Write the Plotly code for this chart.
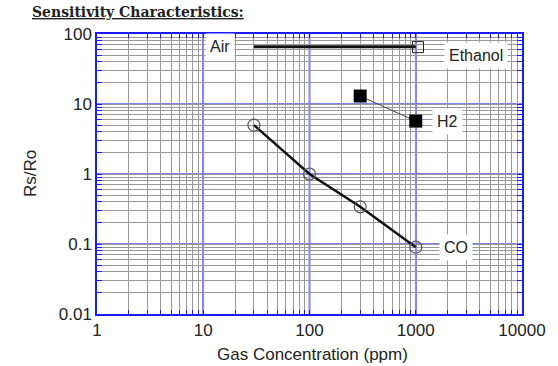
import math
import plotly.graph_objects as go

# Sensitivity curves (Rs/Ro vs gas concentration in ppm)
co_ppm = [30, 100, 300, 1000]
co_ratio = [5.0, 1.0, 0.34, 0.09]

h2_ppm = [300, 1000]
h2_ratio = [13.0, 5.7]

air_ppm = [30, 1000]
air_ratio = [66, 66]

ethanol_ppm = [1050]
ethanol_ratio = [65]

x_major = [1, 10, 100, 1000, 10000]
x_major_text = ["1", "10", "100", "1000", "10000"]
y_major = [0.01, 0.1, 1, 10, 100]
y_major_text = ["0.01", "0.1", "1", "10", "100"]

# curve labels: text, ppm, Rs/Ro
labels = [("Air", 14.5, 67), ("Ethanol", 3700, 50), ("H2", 2000, 5.7), ("CO", 2400, 0.09)]

BLUE = "#1a1aff"
LIGHT_BLUE = "#5555f8"
GRAY = "#999999"
INK = "#222222"
FONT = "Liberation Sans"

# plot area in pixels
W, H = 558, 366
L, R, T, B = 97, 36, 34, 52
PW, PH = W - L - R, H - T - B


def log_grid(decades):
    """All 1..9 x 10^k positions, labelled only at the decades."""
    vals, text = [], []
    for d in decades:
        for m in range(1, 10):
            vals.append(m * d)
            text.append("")
    return vals, text


x_vals, x_text = log_grid([1, 10, 100, 1000])
y_vals, y_text = log_grid([0.01, 0.1, 1, 10])
x_vals.append(10000)
x_text.append("")
y_vals.append(100)
y_text.append("")
for v, t in zip(x_major, x_major_text):
    x_text[x_vals.index(v)] = t
for v, t in zip(y_major, y_major_text):
    y_text[y_vals.index(v)] = t

fig = go.Figure()

# decade lines in blue, above the gray grid and beneath the curves
for v in x_major[1:-1]:
    fig.add_shape(type="line", layer="between", xref="x", yref="paper",
                  x0=v, x1=v, y0=0, y1=1,
                  line=dict(color=BLUE, width=1.6))
for v in y_major[1:-1]:
    fig.add_shape(type="line", layer="between", xref="paper", yref="y",
                  x0=0, x1=1, y0=v, y1=v,
                  line=dict(color=LIGHT_BLUE, width=1.6))

fig.add_trace(go.Scatter(
    x=air_ppm, y=air_ratio, mode="lines",
    line=dict(color="#111111", width=3), showlegend=False))
fig.add_trace(go.Scatter(
    x=ethanol_ppm, y=ethanol_ratio, mode="markers",
    marker=dict(symbol="square-open", size=11, color="#222222",
                line=dict(width=1)), showlegend=False))
fig.add_trace(go.Scatter(
    x=h2_ppm, y=h2_ratio, mode="lines+markers",
    line=dict(color="#444444", width=1),
    marker=dict(symbol="square", size=13, color="#000000"), showlegend=False))
fig.add_trace(go.Scatter(
    x=co_ppm, y=co_ratio, mode="lines+markers",
    line=dict(color="#111111", width=2.5),
    marker=dict(symbol="circle-open", size=12, color="#555555",
                line=dict(width=1.2)), showlegend=False))

for txt, lx, ly in labels:
    fig.add_annotation(
        x=math.log10(lx), y=math.log10(ly), xref="x", yref="y", text=txt,
        showarrow=False, font=dict(family=FONT, size=16, color=INK),
        bgcolor="white", borderpad=4)

fig.add_annotation(
    x=(30 - L) / PW, y=1 + (T - 12) / PH, xref="paper", yref="paper",
    xanchor="left", yanchor="middle",
    text="<b><u>Sensitivity Characteristics:</u></b>", showarrow=False,
    font=dict(family="DejaVu Serif", size=14, color=INK))

# axis titles
fig.add_annotation(
    x=(312 - L) / PW, y=-(354 - T - PH) / PH, xref="paper", yref="paper",
    xanchor="center", yanchor="middle", text="Gas Concentration (ppm)",
    showarrow=False, font=dict(family=FONT, size=17, color=INK))
fig.add_annotation(
    x=(30 - L) / PW, y=0.5, xref="paper", yref="paper", textangle=-90,
    xanchor="center", yanchor="middle", text="Rs/Ro",
    showarrow=False, font=dict(family=FONT, size=17, color=INK))

fig.update_layout(
    width=W, height=H,
    margin=dict(l=L, r=R, t=T, b=B),
    paper_bgcolor="white", plot_bgcolor="white",
    xaxis=dict(
        type="log", range=[0, 4], tickvals=x_vals, ticktext=x_text,
        automargin=False,
        showgrid=True, gridcolor=GRAY, gridwidth=1.4, zeroline=False,
        showline=True, linecolor=BLUE, linewidth=1.5, mirror="allticks",
        ticks="inside", ticklen=4, tickcolor=BLUE,
        tickfont=dict(family=FONT, size=17, color=INK)),
    yaxis=dict(
        type="log", range=[-2, 2], tickvals=y_vals, ticktext=y_text,
        automargin=False,
        showgrid=True, gridcolor=GRAY, gridwidth=1.4, zeroline=False,
        showline=True, linecolor=BLUE, linewidth=1.5, mirror="allticks",
        ticks="inside", ticklen=5, tickcolor=BLUE,
        tickfont=dict(family=FONT, size=17, color=INK)),
)

fig.write_html("out.html")
